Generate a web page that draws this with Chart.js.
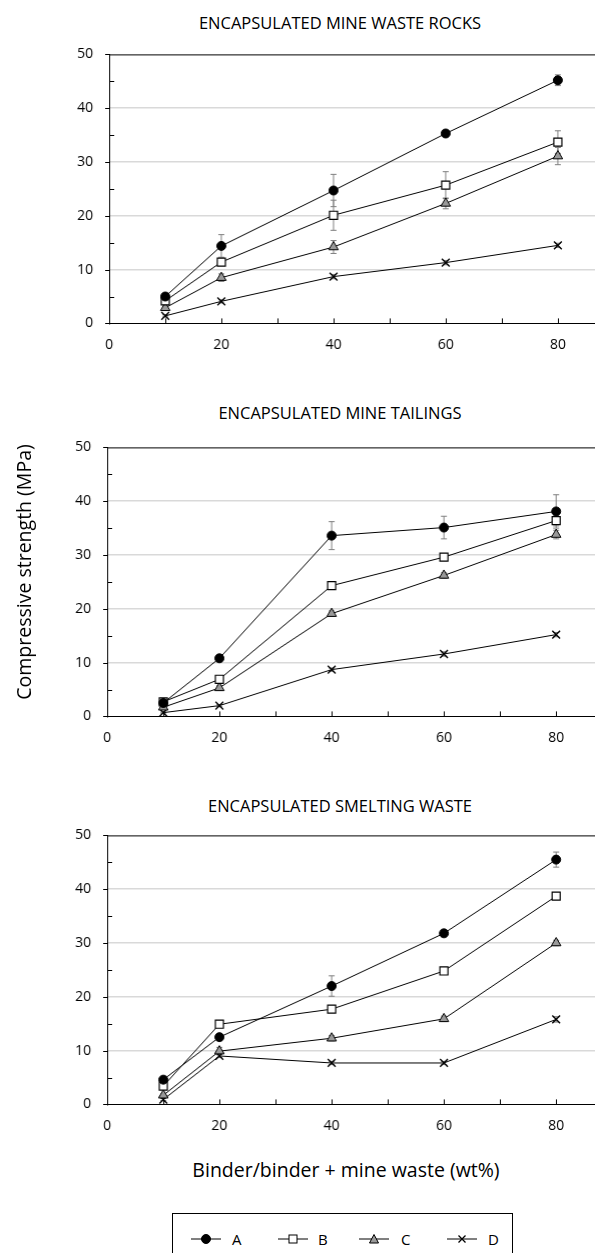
<!DOCTYPE html>
<html>
<head>
<meta charset="utf-8">
<script src="https://cdn.jsdelivr.net/npm/chart.js@4.4.1/dist/chart.umd.min.js"></script>
<style>
  body { margin: 0; width: 595px; height: 1253px; position: relative; background: #fff; overflow: hidden;
         font-family: "Open Sans", sans-serif; color: #000; }
  canvas { position: absolute; left: 0; }
  .title { position: absolute; left: 140px; width: 400px; text-align: center; font-size: 16.5px; line-height: 20px; }
  .ylabel { position: absolute; left: -126px; top: 560px; width: 300px; height: 24px; line-height: 24px;
            text-align: center; font-size: 19.5px; transform: rotate(-90deg); }
  .xlabel { position: absolute; left: 146px; top: 1158px; width: 400px; text-align: center; font-size: 19.5px; line-height: 24px; }
  .legend { position: absolute; left: 172px; top: 1213px; width: 341px; height: 50px; border: 1px solid #000; box-sizing: border-box; }
</style>
</head>
<body>
<div class="title" style="top:13px">ENCAPSULATED MINE WASTE ROCKS</div>
<div class="title" style="top:403px">ENCAPSULATED MINE TAILINGS</div>
<div class="title" style="top:796px">ENCAPSULATED SMELTING WASTE</div>
<canvas id="rocks" width="595" height="319" style="top:44px"></canvas>
<canvas id="tailings" width="595" height="319" style="top:437px"></canvas>
<canvas id="smelting" width="595" height="319" style="top:825px"></canvas>
<div class="ylabel">Compressive strength (MPa)</div>
<div class="xlabel">Binder/binder + mine waste (wt%)</div>
<div class="legend">
  <svg width="341" height="40" style="position:absolute;left:0;top:0">
    <g stroke="#000" stroke-width="1">
      <line x1="18" y1="25" x2="48" y2="25"/><circle cx="33" cy="25" r="4.5" fill="#000"/>
      <line x1="105" y1="25" x2="135" y2="25"/><rect x="116" y="21" width="8" height="8" fill="#fff"/>
      <line x1="186" y1="25" x2="216" y2="25"/><polygon points="201,20.5 205.5,29 196.5,29" fill="#999"/>
      <line x1="274" y1="25" x2="304" y2="25"/><path d="M285.5 21.5 L292.5 28.5 M292.5 21.5 L285.5 28.5" stroke-width="1.3"/>
    </g>
    <g font-family="Open Sans, sans-serif" font-size="15" fill="#000">
      <text x="59" y="30.5">A</text><text x="145" y="30.5">B</text>
      <text x="228" y="30.5">C</text><text x="315" y="30.5">D</text>
    </g>
  </svg>
</div>
<script>
// x values shared by every panel
const binderPct = [10, 20, 40, 60, 80];
const xTicks = [0, 10, 20, 30, 40, 50, 60, 70, 80];
const yTicks = [0, 10, 20, 30, 40, 50];

// Encapsulated mine waste rocks
const rocksA = [5.0, 14.4, 24.7, 35.3, 45.2];
const rocksB = [4.2, 11.4, 20.1, 25.7, 33.7];
const rocksC = [2.9, 8.5, 14.2, 22.3, 31.1];
const rocksD = [1.4, 4.1, 8.7, 11.3, 14.5];
const rocksErrA = [0.3, 2.1, 3.0, 0.5, 1.0];
const rocksErrB = [0.3, 0.6, 2.8, 2.5, 2.1];
const rocksErrC = [0.3, 0.7, 1.2, 1.0, 1.6];
const rocksErrD = [0.2, 0.3, 0.4, 0.4, 0.4];

// Encapsulated mine tailings
const tailA = [2.5, 10.8, 33.6, 35.1, 38.1];
const tailB = [2.7, 6.9, 24.3, 29.6, 36.4];
const tailC = [1.7, 5.3, 19.1, 26.2, 33.8];
const tailD = [0.7, 2.0, 8.7, 11.6, 15.2];
const tailErrA = [0.2, 0.4, 2.6, 2.1, 3.1];
const tailErrB = [0.2, 0.4, 0.7, 0.5, 1.0];
const tailErrC = [0.2, 0.4, 0.5, 0.5, 0.8];
const tailErrD = [0.1, 0.2, 0.3, 0.4, 0.4];

// Encapsulated smelting waste
const smeltA = [4.6, 12.5, 22.0, 31.8, 45.5];
const smeltB = [3.4, 14.9, 17.7, 24.8, 38.7];
const smeltC = [1.7, 9.9, 12.3, 15.9, 30.0];
const smeltD = [0.9, 9.0, 7.7, 7.7, 15.8];
const smeltErrA = [0.4, 0.6, 1.9, 0.5, 1.4];
const smeltErrB = [0.3, 0.5, 0.5, 0.5, 0.5];
const smeltErrC = [0.3, 0.7, 0.5, 0.5, 0.5];
const smeltErrD = [0.2, 0.3, 0.3, 0.3, 0.5];

const seriesStyles = [
    { label: 'A', pointStyle: 'circle', pointRadius: 4.5, pointBackgroundColor: '#000', pointBorderWidth: 1 },
    { label: 'B', pointStyle: 'rect', pointRadius: 5.7, pointBackgroundColor: '#fff', pointBorderWidth: 1.2 },
    { label: 'C', pointStyle: 'triangle', pointRadius: 5.5, pointBackgroundColor: '#999', pointBorderWidth: 1 },
    { label: 'D', pointStyle: 'crossRot', pointRadius: 5.5, pointBackgroundColor: '#000', pointBorderWidth: 1.4 }
];

// error bars, tick marks inside the axes and the top frame line
const panelExtras = {
    id: 'panelExtras',
    beforeDatasetsDraw(chart) {
        const { ctx, scales: { y } } = chart;
        ctx.save();
        ctx.strokeStyle = '#7f7f7f';
        ctx.lineWidth = 1;
        chart.data.datasets.forEach((ds, di) => {
            const meta = chart.getDatasetMeta(di);
            meta.data.forEach((pt, i) => {
                const err = ds.errors[i];
                const top = y.getPixelForValue(ds.data[i].y + err);
                const bot = y.getPixelForValue(ds.data[i].y - err);
                ctx.beginPath();
                ctx.moveTo(pt.x, top); ctx.lineTo(pt.x, bot);
                ctx.moveTo(pt.x - 3, top); ctx.lineTo(pt.x + 3, top);
                ctx.moveTo(pt.x - 3, bot); ctx.lineTo(pt.x + 3, bot);
                ctx.stroke();
            });
        });
        ctx.restore();
    },
    afterDraw(chart) {
        const { ctx, chartArea: a, scales: { x, y } } = chart;
        ctx.save();
        ctx.strokeStyle = '#000';
        ctx.lineWidth = 1;
        ctx.beginPath();
        ctx.moveTo(a.left, a.top + 0.5); ctx.lineTo(a.right, a.top + 0.5);
        xTicks.forEach(v => {
            const px = Math.round(x.getPixelForValue(v)) + 0.5;
            ctx.moveTo(px, a.bottom); ctx.lineTo(px, a.bottom - 5);
        });
        for (let v = 5; v < 50; v += 10) {
            const py = Math.round(y.getPixelForValue(v)) + 0.5;
            ctx.moveTo(a.left, py); ctx.lineTo(a.left + 5, py);
        }
        yTicks.forEach(v => {
            const py = Math.round(y.getPixelForValue(v)) + 0.5;
            ctx.moveTo(a.left - 4, py); ctx.lineTo(a.left, py);
        });
        ctx.stroke();
        ctx.restore();
    }
};

function makeChart(id, values, errors, xMax, axisLeft) {
    const datasets = values.map((vals, s) => Object.assign({
        data: vals.map((v, i) => ({ x: binderPct[i], y: v })),
        errors: errors[s],
        borderColor: '#000',
        borderWidth: 1,
        pointBorderColor: '#000',
        showLine: true,
        fill: false
    }, seriesStyles[s]));

    return new Chart(document.getElementById(id), {
        type: 'scatter',
        data: { datasets },
        options: {
            responsive: false,
            maintainAspectRatio: false,
            animation: false,
            layout: { padding: { top: 10, right: 0, left: 0, bottom: 0 } },
            plugins: { legend: { display: false }, tooltip: { enabled: false } },
            scales: {
                x: {
                    type: 'linear', min: 0, max: xMax,
                    afterBuildTicks: s => { s.ticks = xTicks.map(v => ({ value: v })); },
                    afterFit: s => { s.height = 40; },
                    grid: { display: false, drawTicks: false },
                    border: { color: '#000', width: 1 },
                    ticks: {
                        autoSkip: false, maxRotation: 0, padding: 13, color: '#000',
                        font: { family: 'Open Sans', size: 14 },
                        callback: v => (v % 20 === 0 ? v : '')
                    }
                },
                y: {
                    min: 0, max: 50,
                    afterBuildTicks: s => { s.ticks = yTicks.map(v => ({ value: v })); },
                    afterFit: s => { s.width = axisLeft; },
                    grid: {
                        drawTicks: false,
                        color: c => (c.tick && (c.tick.value === 0 || c.tick.value === 50) ? 'rgba(0,0,0,0)' : '#d9d9d9'),
                        lineWidth: 1.5
                    },
                    border: { color: '#000', width: 1 },
                    ticks: { padding: 16, color: '#000', font: { family: 'Open Sans', size: 14 } }
                }
            }
        },
        plugins: [panelExtras]
    });
}

// move and resize a panel so its plot area lands where the reference has it
function placePanel(chart, plotTop, plotBottom, plotRight) {
    const a = chart.chartArea;
    const extraH = (plotBottom - plotTop) - (a.bottom - a.top);
    const extraW = plotRight - a.right;
    chart.canvas.style.top = (plotTop - a.top) + 'px';
    chart.resize(chart.width + extraW, chart.height + extraH);
}

const rocksChart = makeChart('rocks', [rocksA, rocksB, rocksC, rocksD],
    [rocksErrA, rocksErrB, rocksErrC, rocksErrD], 86.8, 109);
const tailChart = makeChart('tailings', [tailA, tailB, tailC, tailD],
    [tailErrA, tailErrB, tailErrC, tailErrD], 87.1, 107);
const smeltChart = makeChart('smelting', [smeltA, smeltB, smeltC, smeltD],
    [smeltErrA, smeltErrB, smeltErrC, smeltErrD], 87.1, 107);

placePanel(rocksChart, 54, 323, 595);
placePanel(tailChart, 447, 716, 595);
placePanel(smeltChart, 835, 1104, 595);
</script>
</body>
</html>
